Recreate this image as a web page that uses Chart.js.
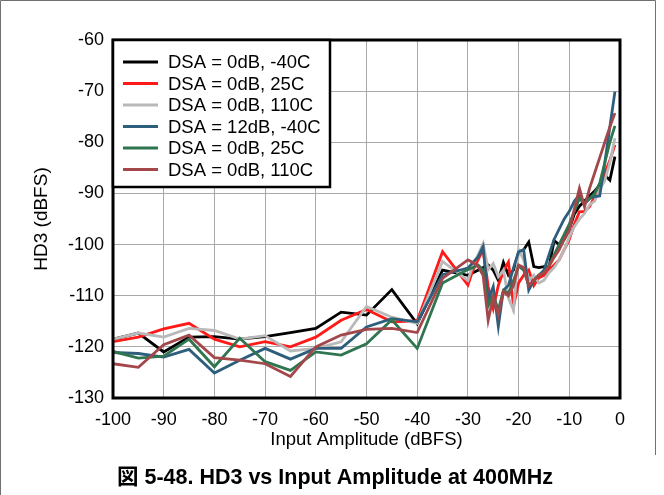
<!DOCTYPE html>
<html>
<head>
<meta charset="utf-8">
<script src="https://cdn.jsdelivr.net/npm/chart.js@4.4.0/dist/chart.umd.min.js"></script>
<style>
  html, body { margin: 0; padding: 0; background: #fff; }
  #wrap { width: 664px; height: 495px; position: relative; }
</style>
</head>
<body>
<div id="wrap"><canvas id="hd3chart"></canvas></div>
<script>
// input amplitude (dBFS)
const amplitude = [-100, -95, -90, -85, -80, -75, -70, -65, -60, -55, -50, -45, -40, -35,
  -30, -29, -28, -27, -26, -25, -24, -23, -22, -21, -20, -19, -18, -17, -16, -15,
  -14, -13, -12, -11, -10, -9, -8, -7, -6, -5, -4, -3, -2, -1];

// HD3 (dBFS) per curve
const dsa0Cold = [-118.5, -117.3, -121, -118.1, -118, -118.5, -118, -117.2, -116.4, -113.2, -113.8, -108.8, -115.5, -105,
  -106, -105.5, -105, -104.5, -104, -105, -107, -103.5, -106, -105, -101.5, -101, -99.5, -104.3, -104.5, -104.3,
  -104.5, -99.2, -100, -99, -97, -94, -92.5, -91.5, -90.5, -89.5, -88.4, -86.4, -87.4, -82.8];
const dsa0Room = [-119, -118.1, -116.5, -115.4, -118.5, -120, -119, -120, -118.1, -114.8, -112.7, -115.1, -114.9, -101.4,
  -107.9, -105, -103, -101, -108.2, -112.5, -108, -105.2, -103.4, -112, -107.5, -106, -105, -108, -106.5, -106,
  -105, -104, -103, -101, -99, -96, -93.6, -93.5, -92.6, -90.5, -88.5, -86, -83.5, -80.5];
const dsa0Hot = [-118.5, -117.3, -118.1, -116.4, -116.8, -118.5, -117.8, -120.8, -120.3, -119, -112.1, -114.2, -115.4, -103.3,
  -107, -104, -102, -99.8, -104.9, -103.7, -106.3, -105, -110.5, -112.8, -101, -103, -107, -106, -107.5, -107,
  -105.5, -104.5, -103, -101, -98.5, -96.5, -95, -93.9, -92.2, -91.5, -89.2, -87.5, -84, -79.2];
const dsa12Cold = [-121.1, -121.3, -122, -120.5, -125.1, -122.6, -120.3, -122.4, -120.3, -120.3, -116.1, -114.5, -115.1, -105.9,
  -104.6, -103.5, -102.4, -100.4, -110.9, -108.2, -116, -108.9, -108, -104.5, -101.4, -101, -108.9, -107, -106, -105,
  -102, -99, -97, -95, -93.5, -91.5, -90.3, -92, -91, -90.6, -90.5, -84, -77, -70.1];
const dsa0RoomB = [-120.9, -122.2, -121.8, -118.5, -123.9, -118.3, -122.9, -124.6, -121, -121.6, -119.4, -114.7, -120.3, -107.5,
  -104.9, -104.5, -104, -105, -112, -109.9, -112.8, -109, -109.5, -107, -104.2, -105, -108, -107, -106, -105.5,
  -104, -102, -100, -98, -96, -93.5, -91, -92, -91, -90, -88, -84, -80, -76.8];
const dsa0HotB = [-123.3, -124, -119.6, -117.7, -122.1, -122.6, -123.3, -125.8, -120, -117.7, -116.6, -116.4, -117.2, -106.6,
  -103, -103.5, -104.3, -106, -114.8, -110.2, -113.8, -109.2, -110, -108, -104, -104.5, -108, -107, -106, -105.5,
  -104.3, -102.5, -101, -99, -97.2, -93, -89, -92.6, -89, -86, -83, -80, -77, -74.3];

const labels = ['DSA = 0dB, -40C', 'DSA = 0dB, 25C', 'DSA = 0dB, 110C',
  'DSA = 12dB, -40C', 'DSA = 0dB, 25C', 'DSA = 0dB, 110C'];
const colors = ['#000000', '#ff1a1a', '#b9b9b9', '#2d5f7c', '#2e7550', '#a3474b'];
const series = [dsa0Cold, dsa0Room, dsa0Hot, dsa12Cold, dsa0RoomB, dsa0HotB];
const figTitle = '図 5-48. HD3 vs Input Amplitude at 400MHz';

Chart.defaults.font.family = '"Liberation Sans", Arial, "Noto Sans CJK JP", sans-serif';
Chart.defaults.color = '#000';

const datasets = series.map((vals, i) => ({
  label: labels[i],
  data: vals.map((v, j) => ({ x: amplitude[j], y: v })),
  borderColor: colors[i],
  backgroundColor: colors[i],
  borderWidth: 2.8,
  pointRadius: 0,
  tension: 0,
  order: series.length - i   // later curves on top
}));

// outer frame, plot border, boxed legend and the figure caption
const frameAndLegend = {
  id: 'frameAndLegend',
  beforeDraw(chart) {
    const ctx = chart.ctx;
    ctx.save();
    ctx.strokeStyle = '#707070';
    ctx.lineWidth = 1;
    ctx.beginPath();
    ctx.moveTo(0.5, 495);
    ctx.lineTo(0.5, 0.5);
    ctx.lineTo(655.5, 0.5);
    ctx.lineTo(655.5, 455);
    ctx.stroke();
    ctx.restore();
  },
  afterDatasetsDraw(chart) {
    const a = chart.chartArea, ctx = chart.ctx;
    ctx.save();
    ctx.strokeStyle = '#000';
    ctx.lineWidth = 3;
    ctx.strokeRect(a.left, a.top, a.right - a.left, a.bottom - a.top);

    // legend box
    const bw = 217, bh = 147;
    ctx.fillStyle = '#fff';
    ctx.fillRect(a.left, a.top, bw, bh);
    ctx.lineWidth = 2.5;
    ctx.strokeRect(a.left, a.top, bw, bh);
    ctx.font = '18.5px "Liberation Sans", Arial, sans-serif';
    ctx.textBaseline = 'middle';
    chart.data.datasets.forEach((ds, i) => {
      const y = a.top + 22 + i * 21.5;
      ctx.strokeStyle = ds.borderColor;
      ctx.lineWidth = 2.8;
      ctx.beginPath();
      ctx.moveTo(a.left + 10, y);
      ctx.lineTo(a.left + 45, y);
      ctx.stroke();
      ctx.fillStyle = '#000';
      ctx.fillText(ds.label, a.left + 55, y + 1);
    });

    // caption under the chart
    ctx.font = 'bold 21.5px "Liberation Sans", Arial, "Noto Sans CJK JP", sans-serif';
    ctx.textAlign = 'center';
    ctx.fillText(figTitle, 335, 478);
    ctx.restore();
  }
};

const config = {
  type: 'line',
  data: { datasets },
  options: {
    responsive: true,
    maintainAspectRatio: false,
    animation: false,
    layout: { padding: { top: 40, right: 44, left: 0, bottom: 40 } },
    plugins: {
      legend: { display: false },
      tooltip: { enabled: false },
      title: { display: false }
    },
    scales: {
      x: {
        type: 'linear',
        min: -100,
        max: 0,
        ticks: { stepSize: 10, font: { size: 18 }, padding: 11, maxRotation: 0 },
        grid: { color: '#a9a9a9', lineWidth: 1, drawTicks: false },
        border: { display: false },
        title: { display: true, text: 'Input Amplitude (dBFS)', font: { size: 18.5 }, padding: { top: 0, bottom: 4 } },
        afterFit(scale) { scale.height = 57; }
      },
      y: {
        min: -130,
        max: -60,
        ticks: { stepSize: 10, font: { size: 18 }, padding: 9 },
        grid: { color: '#a9a9a9', lineWidth: 1, drawTicks: false },
        border: { display: false },
        title: { display: true, text: 'HD3 (dBFS)', font: { size: 19 }, padding: { top: 30, bottom: 0 } },
        afterFit(scale) { scale.width = 113; }
      }
    }
  },
  plugins: [frameAndLegend]
};

const hd3Chart = new Chart(document.getElementById('hd3chart'), config);
</script>
</body>
</html>
